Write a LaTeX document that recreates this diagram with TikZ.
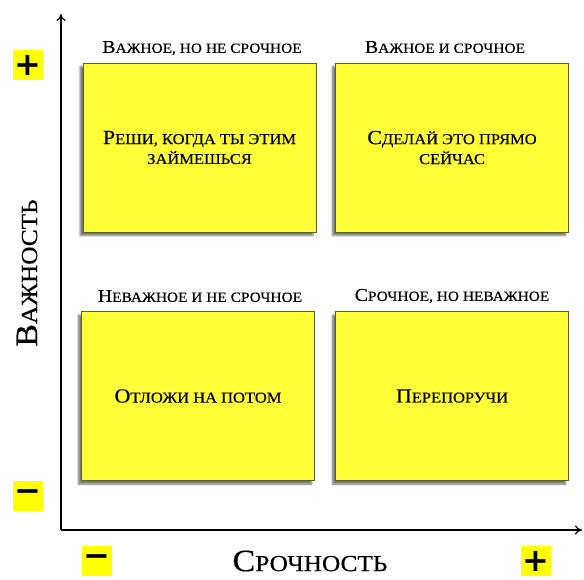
\documentclass[tikz,border=0pt]{standalone}
\usepackage{fontspec}
\setmainfont[FakeStretch=1.1,FakeBold=0.4]{Liberation Serif}
\newfontfamily\markfont{DejaVu Sans}
\usetikzlibrary{arrows.meta,shadows.blur}
\definecolor{quadfill}{RGB}{255,255,56}
\definecolor{quadline}{RGB}{95,95,45}
\definecolor{markfill}{RGB}{255,255,0}
\newcommand\scx[3]{{\fontsize{#1}{#1}\selectfont #2}{\fontsize{\numexpr #1*3/4\relax}{20}\selectfont #3}}
\tikzset{
  quad/.style={draw=quadline, line width=0.8pt, fill=quadfill, minimum width=233pt, minimum height=169pt,
    blur shadow={shadow xshift=-3pt, shadow yshift=-3.5pt, shadow blur steps=6, shadow opacity=55},
    align=center, text=black, inner sep=0pt},
  qtitle/.style={inner sep=0pt, text=black},
  marker/.style={fill=markfill, minimum width=30pt, minimum height=30pt, inner sep=0pt, font=\markfont\bfseries\fontsize{32}{32}\selectfont},
  axis/.style={line width=1.6pt, -{To[length=7pt,width=9pt,line width=1.2pt]}},
  axislabel/.style={inner sep=0pt, text=black}
}
\begin{document}
\begin{tikzpicture}[x=1pt,y=-1pt]
\useasboundingbox (0,0) rectangle (584,579);
% axes
\coordinate (origin) at (61,530);
\coordinate (ytop) at (61,14);
\coordinate (xend) at (582,530);
\draw[axis] (origin) -- (ytop);
\draw[axis] (origin) -- (xend);
% quadrants
\node[quad] (q1) at (199.5,147.5) {\scx{20}{Р}{ЕШИ, КОГДА ТЫ ЭТИМ}\\[3pt]\scx{20}{}{ЗАЙМЕШЬСЯ}};
\node[quad] (q2) at (452,147.5) {\scx{20}{С}{ДЕЛАЙ ЭТО ПРЯМО}\\[3pt]\scx{20}{}{СЕЙЧАС}};
\node[quad] (q3) at (198,396) {\scx{20}{О}{ТЛОЖИ НА ПОТОМ}};
\node[quad] (q4) at (452,396) {\scx{20}{П}{ЕРЕПОРУЧИ}};
% titles
\node[qtitle] (t1) at (202,48) {\scx{18}{В}{АЖНОЕ, НО НЕ СРОЧНОЕ}};
\node[qtitle] (t2) at (445,47) {\scx{18}{В}{АЖНОЕ И СРОЧНОЕ}};
\node[qtitle] (t3) at (200,296) {\scx{18}{Н}{ЕВАЖНОЕ И НЕ СРОЧНОЕ}};
\node[qtitle] (t4) at (452,296) {\scx{18}{С}{РОЧНОЕ, НО НЕВАЖНОЕ}};
% axis labels
\node[axislabel, rotate=90] (ylab) at (27,273) {\scx{31}{В}{АЖНОСТЬ}};
\node[axislabel] (xlab) at (310,561) {\scx{31}{С}{РОЧНОСТЬ}};
% markers
\node[marker] (yplus) at (28,65) {+};
\node[marker] (yminus) at (28,496) {−};
\node[marker] (xminus) at (97,561) {−};
\node[marker] (xplus) at (536,561) {+};
\end{tikzpicture}
\end{document}
